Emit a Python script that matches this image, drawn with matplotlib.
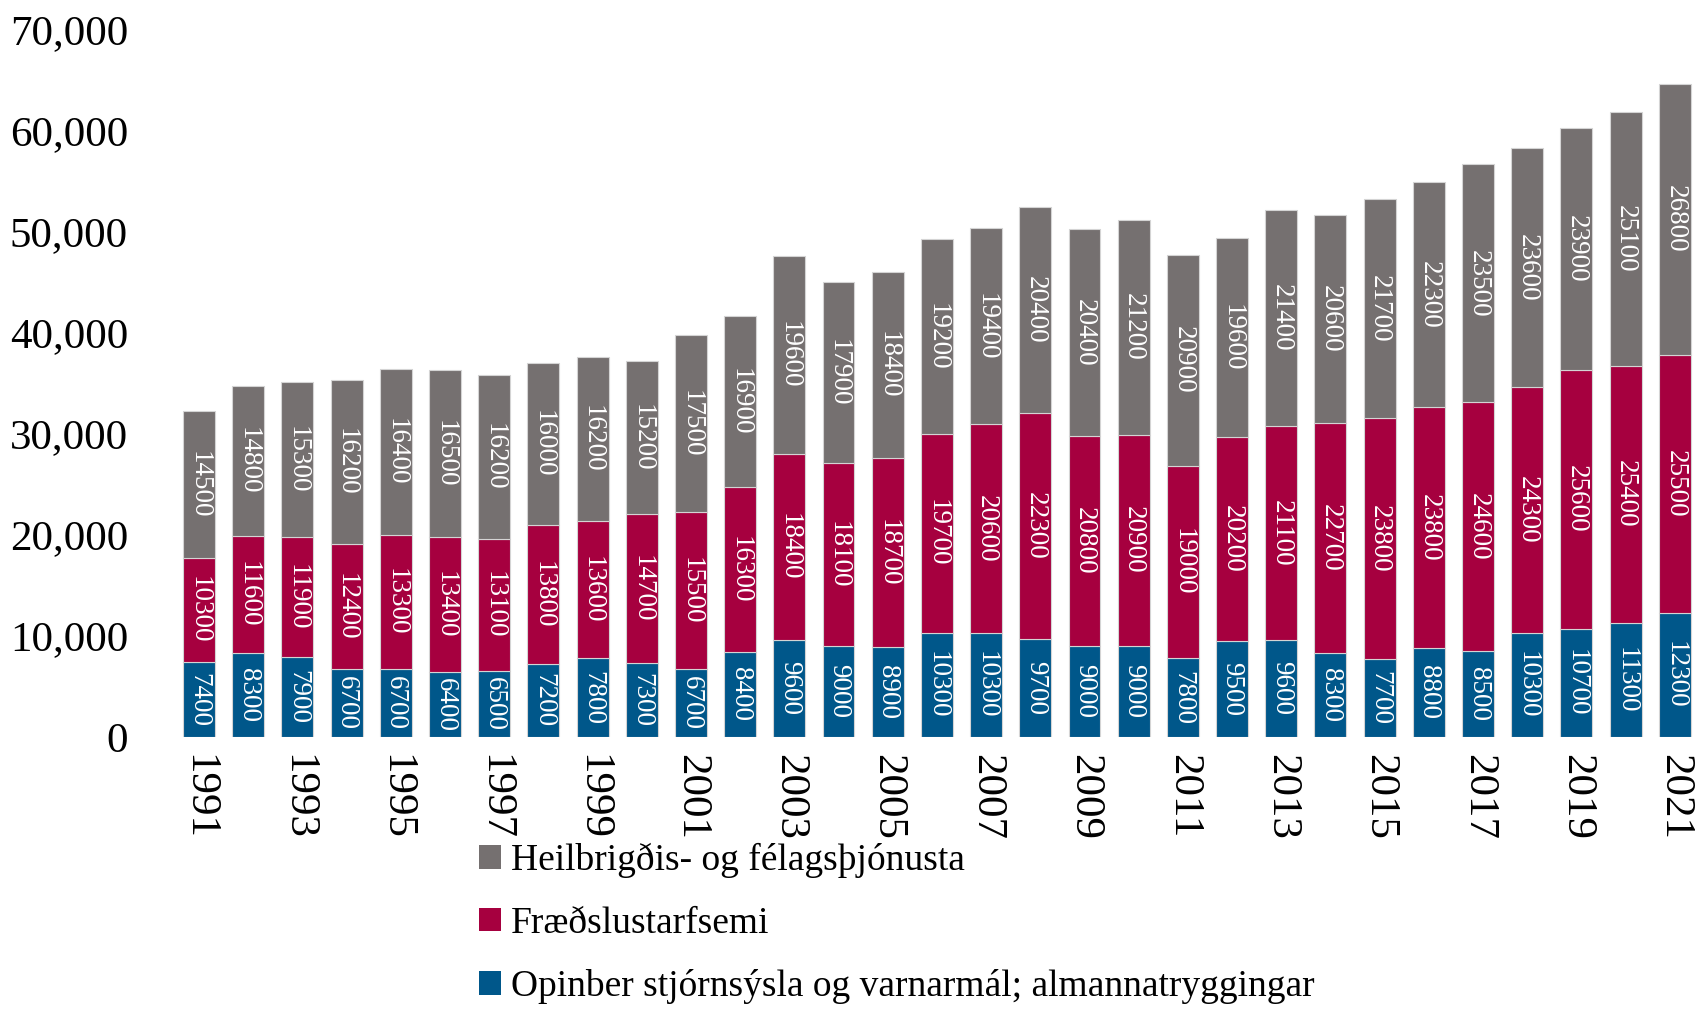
import matplotlib
matplotlib.use("Agg")
import matplotlib.pyplot as plt
import numpy as np
from matplotlib.ticker import FuncFormatter
from matplotlib.patches import Patch

plt.rcParams['font.family'] = ['Liberation Serif', 'DejaVu Serif']

years = list(range(1991, 2022))
opinber = [7400, 8300, 7900, 6700, 6700, 6400, 6500, 7200, 7800, 7300, 6700,
           8400, 9600, 9000, 8900, 10300, 10300, 9700, 9000, 9000, 7800, 9500,
           9600, 8300, 7700, 8800, 8500, 10300, 10700, 11300, 12300]
fraedsla = [10300, 11600, 11900, 12400, 13300, 13400, 13100, 13800, 13600,
            14700, 15500, 16300, 18400, 18100, 18700, 19700, 20600, 22300,
            20800, 20900, 19000, 20200, 21100, 22700, 23800, 23800, 24600,
            24300, 25600, 25400, 25500]
heilbrigdi = [14500, 14800, 15300, 16200, 16400, 16500, 16200, 16000, 16200,
              15200, 17500, 16900, 19600, 17900, 18400, 19200, 19400, 20400,
              20400, 21200, 20900, 19600, 21400, 20600, 21700, 22300, 23500,
              23600, 23900, 25100, 26800]

labels = ["Opinber stjórnsýsla og varnarmál; almannatryggingar",
          "Fræðslustarfsemi",
          "Heilbrigðis- og félagsþjónusta"]
colors = ["#00578A", "#A6003F", "#757070"]

fig = plt.figure(figsize=(16.96, 10.09), dpi=100)
ax = fig.add_axes([0.0796, 0.2696, 0.9204, 0.7017])

x = np.arange(len(years))
bottom = np.zeros(len(years))
for vals, col in zip([opinber, fraedsla, heilbrigdi], colors):
    vals = np.array(vals)
    bars = ax.bar(x, vals, 0.65, bottom=bottom, color=col,
                  edgecolor="#d4d4d4", linewidth=0.8)
    ax.bar_label(bars, labels=[str(v) for v in vals], label_type="center",
                 rotation=-90, color="white", fontsize=19.5)
    bottom += vals

ax.set_ylim(0, 70000)
ax.set_xlim(-1.30, 30.43)
ax.set_yticks(range(0, 70001, 10000))
ax.yaxis.set_major_formatter(FuncFormatter(lambda v, p: f"{int(v):,}"))
ax.set_xticks(x[::2])
ax.set_xticklabels([str(y) for y in years[::2]], rotation=-90)
ax.tick_params(axis="y", length=0, pad=5, labelsize=31)
ax.tick_params(axis="x", length=0, pad=12, labelsize=31)
for s in ax.spines.values():
    s.set_visible(False)

handles = [Patch(facecolor=c, edgecolor="none") for c in colors[::-1]]
fig.legend(handles, labels[::-1], loc="upper left",
           bbox_to_anchor=(479 / 1696, 0.1645), frameon=False, fontsize=27,
           handlelength=0.59, handleheight=0.59, handletextpad=0.27,
           labelspacing=0.75, borderpad=0, borderaxespad=0)

fig.savefig("out.png", dpi=100)
